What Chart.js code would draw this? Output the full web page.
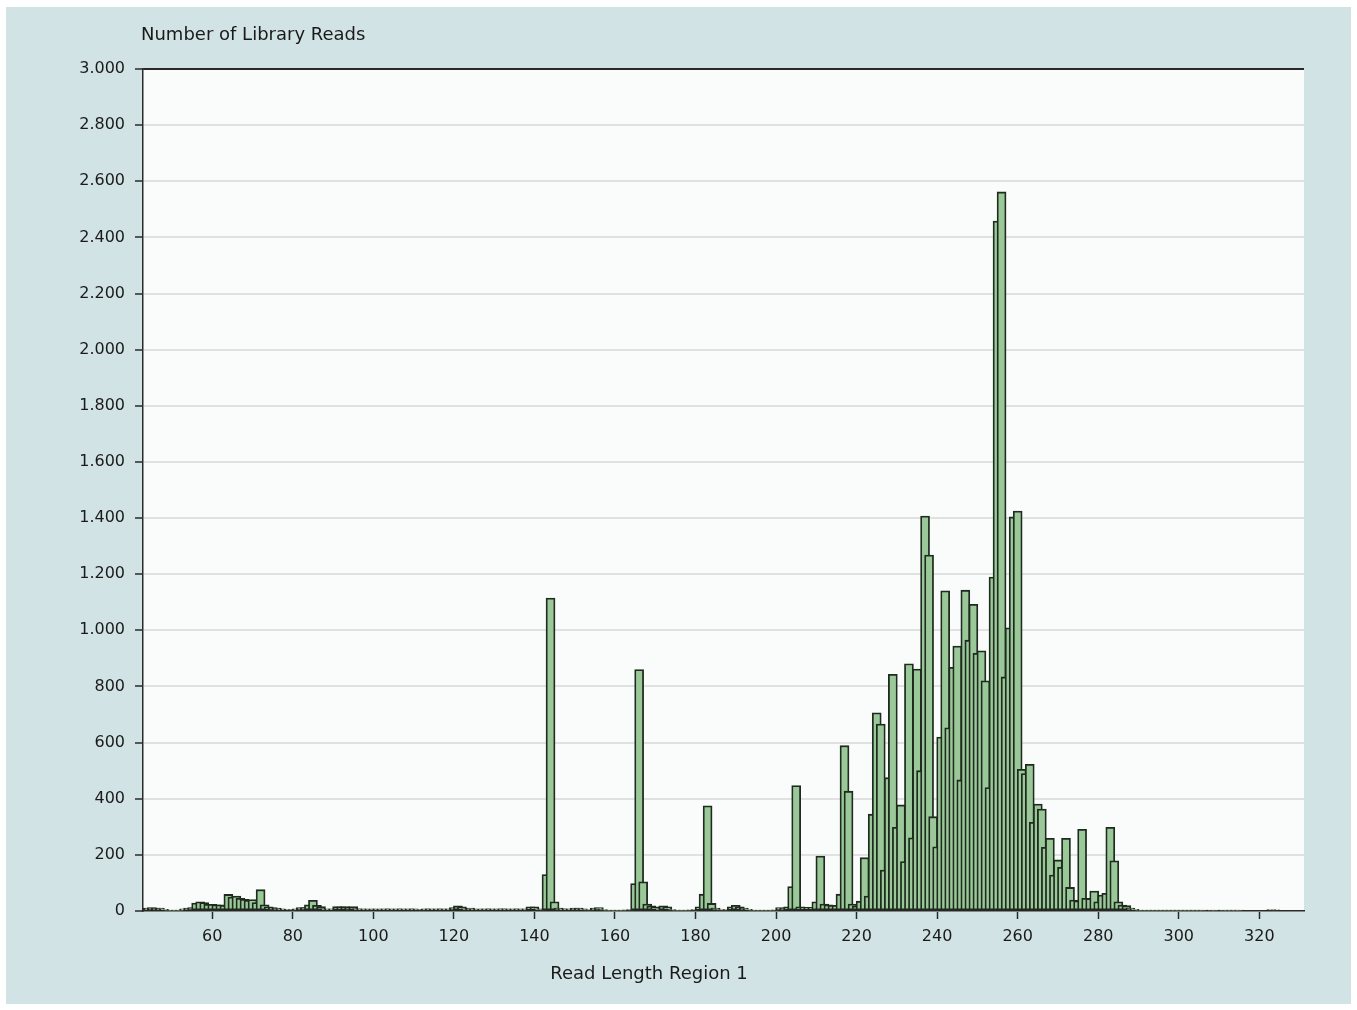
<!DOCTYPE html>
<html>
<head>
<meta charset="utf-8">
<script src="https://cdn.jsdelivr.net/npm/chart.js@4.4.1/dist/chart.umd.min.js"></script>
<style>
  html, body { margin: 0; padding: 0; background: #ffffff; }
  #panel { position: absolute; left: 6px; top: 7px; width: 1345px; height: 997px; background: #d2e3e5; }
  #chart { position: absolute; left: 0; top: 0; }
</style>
</head>
<body>
<div id="panel"></div>
<canvas id="chart" width="1357" height="1010"></canvas>
<script>
// Read-length histogram: one bar per read length, starting at firstLength.
const firstLength = 44;
const readCounts = [
  /* 44  */ 10, 12, 10, 10, 6, 3, 3, 3, 3, 8,
  /* 54  */ 10, 12, 28, 33, 30, 24, 24, 22, 22, 20,
  /* 64  */ 59, 50, 53, 45, 42, 38, 41, 30, 76, 22,
  /* 74  */ 15, 12, 10, 8, 6, 6, 5, 8, 12, 12,
  /* 84  */ 22, 38, 20, 16, 8, 6, 8, 16, 15, 16,
  /* 94  */ 12, 16, 8, 8, 6, 8, 6, 8, 6, 8,
  /* 104 */ 8, 6, 8, 8, 6, 8, 8, 6, 5, 8,
  /* 114 */ 8, 6, 8, 8, 6, 8, 12, 18, 15, 8,
  /* 124 */ 10, 6, 8, 6, 8, 8, 6, 8, 8, 8,
  /* 134 */ 6, 8, 8, 6, 8, 15, 15, 8, 5, 130,
  /* 144 */ 1115, 33, 10, 8, 8, 6, 10, 10, 8, 5,
  /* 154 */ 4, 10, 12, 5, 3, 3, 3, 3, 3, 4,
  /* 164 */ 5, 98, 860, 104, 25, 18, 15, 8, 18, 15,
  /* 174 */ 5, 3, 3, 3, 3, 4, 5, 15, 60, 375,
  /* 184 */ 27, 10, 5, 4, 5, 15, 20, 15, 10, 6,
  /* 194 */ 3, 3, 3, 3, 3, 3, 4, 12, 10, 15,
  /* 204 */ 87, 447, 15, 13, 13, 13, 33, 196, 25, 22,
  /* 214 */ 20, 20, 60, 589, 427, 25, 18, 35, 190, 53,
  /* 224 */ 345, 706, 666, 146, 475, 843, 298, 378, 176, 881,
  /* 234 */ 261, 862, 500, 1407, 1268, 336, 229, 620, 1141, 653,
  /* 244 */ 868, 944, 467, 1143, 965, 1093, 918, 927, 820, 440,
  /* 254 */ 1190, 2458, 2562, 834, 1009, 1404, 1425, 505, 490, 523,
  /* 264 */ 316, 381, 363, 227, 259, 128, 182, 156, 259, 84,
  /* 274 */ 39, 36, 291, 45, 44, 71, 33, 57, 63, 298,
  /* 284 */ 179, 33, 21, 19, 10, 6, 3, 3, 3, 3,
  /* 294 */ 3, 3, 3, 3, 3, 3, 3, 3, 3, 3,
  /* 304 */ 3, 3, 3, 0, 3, 3, 0, 3, 3, 3,
  /* 314 */ 3, 3, 0, 0, 0, 0, 0, 0, 0, 5,
  /* 324 */ 4
];
const readLengths = readCounts.map((_, i) => firstLength + i);

const xTickValues = [60, 80, 100, 120, 140, 160, 180, 200, 220, 240, 260, 280, 300, 320];
const yTickValues = [0, 200, 400, 600, 800, 1000, 1200, 1400, 1600, 1800, 2000, 2200, 2400, 2600, 2800, 3000];

const xTitle = 'Read Length Region 1';
const yTitle = 'Number of Library Reads';

const FONT = '"DejaVu Sans", sans-serif';
const AXIS_DARK = '#2a2a2a';

// German-style thousands separator: 3000 -> "3.000"
function formatCount(v) {
  return String(Math.round(v)).replace(/\B(?=(\d{3})+(?!\d))/g, '.');
}

const points = readLengths
  .map((len, i) => ({ x: len, y: readCounts[i] }))
  .filter(p => p.y > 0);

const frame = {
  id: 'frame',
  beforeDraw(chart) {
    const { ctx, chartArea: a } = chart;
    ctx.save();
    ctx.fillStyle = '#fafbfb';
    ctx.fillRect(a.left, a.top, a.right - a.left, a.bottom - a.top);
    ctx.restore();
  },
  afterDraw(chart) {
    const { ctx, chartArea: a } = chart;
    ctx.save();
    // top border of the plot box
    ctx.strokeStyle = AXIS_DARK;
    ctx.lineWidth = 1.5;
    ctx.beginPath();
    ctx.moveTo(a.left, a.top);
    ctx.lineTo(a.right, a.top);
    ctx.stroke();
    // axis titles
    ctx.fillStyle = '#1a1a1a';
    ctx.font = '18px ' + FONT;
    ctx.textBaseline = 'middle';
    ctx.textAlign = 'left';
    ctx.fillText(yTitle, a.left - 2, 35);
    ctx.textAlign = 'center';
    ctx.fillText(xTitle, 649, 974);
    ctx.restore();
  }
};

new Chart(document.getElementById('chart'), {
  type: 'bar',
  data: {
    datasets: [{
      data: points,
      backgroundColor: '#9ac898',
      borderColor: '#1e2b1e',
      borderWidth: 1.8,
      borderSkipped: false,
      barThickness: 9,
      grouped: false
    }]
  },
  options: {
    responsive: false,
    animation: false,
    events: [],
    layout: { padding: { left: 0, top: 69, right: 53, bottom: 0 } },
    plugins: { legend: { display: false }, tooltip: { enabled: false } },
    scales: {
      x: {
        type: 'linear',
        offset: false,
        min: 42.8,
        max: 331.1,
        afterFit(scale) { scale.height = 99; },
        afterBuildTicks(scale) { scale.ticks = xTickValues.map(v => ({ value: v })); },
        grid: {
          offset: false,
          drawOnChartArea: false,
          drawTicks: true,
          tickLength: 8,
          tickWidth: 1.5,
          tickColor: AXIS_DARK
        },
        border: { display: true, color: AXIS_DARK, width: 1.5 },
        ticks: {
          padding: 8,
          color: '#1a1a1a',
          font: { family: FONT, size: 16 },
          maxRotation: 0,
          autoSkip: false,
          callback: v => String(v)
        }
      },
      y: {
        min: 0,
        max: 3000,
        afterFit(scale) { scale.width = 143; },
        afterBuildTicks(scale) { scale.ticks = yTickValues.map(v => ({ value: v })); },
        grid: {
          color: ctx => (ctx.tick && ctx.tick.value === 3000) ? AXIS_DARK : '#e1e1e1',
          lineWidth: 2,
          drawTicks: true,
          tickLength: 8,
          tickWidth: 1.5,
          tickColor: AXIS_DARK
        },
        border: { display: true, color: AXIS_DARK, width: 1.5 },
        ticks: {
          padding: 10,
          color: '#1a1a1a',
          font: { family: FONT, size: 16 },
          autoSkip: false,
          callback: v => formatCount(v)
        }
      }
    }
  },
  plugins: [frame]
});
</script>
</body>
</html>
